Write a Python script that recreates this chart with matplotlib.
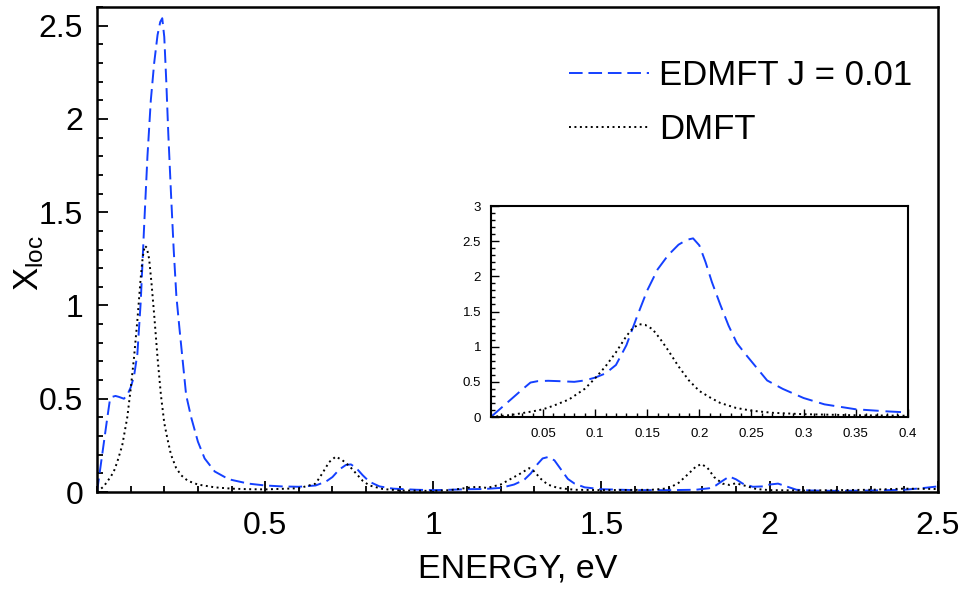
import matplotlib
matplotlib.use("Agg")
import matplotlib.pyplot as plt
from matplotlib.ticker import MultipleLocator

plt.rcParams['font.family'] = ['Liberation Sans', 'DejaVu Sans']
plt.rcParams['mathtext.fontset'] = 'custom'
plt.rcParams['mathtext.rm'] = 'Liberation Sans'
plt.rcParams['mathtext.it'] = 'Liberation Sans'

# EDMFT J = 0.01 (blue dashed)
edmft_x = [0.0, 0.01, 0.02, 0.03, 0.038, 0.045, 0.055, 0.065, 0.08, 0.09, 0.10, 0.11,
           0.12, 0.13, 0.14, 0.15, 0.16, 0.17, 0.18, 0.188, 0.194, 0.2, 0.206, 0.212,
           0.22, 0.228, 0.236, 0.245, 0.255, 0.265, 0.28, 0.3, 0.32, 0.35, 0.38, 0.4,
           0.45, 0.5, 0.55, 0.6, 0.65, 0.68, 0.70, 0.72, 0.74, 0.755, 0.77, 0.79, 0.81,
           0.84, 0.88, 0.95, 1.0, 1.05, 1.1, 1.15, 1.2, 1.24, 1.27, 1.29, 1.31, 1.325,
           1.34, 1.36, 1.38, 1.40, 1.42, 1.45, 1.5, 1.6, 1.7, 1.78, 1.82, 1.84, 1.86,
           1.88, 1.9, 1.92, 1.95, 1.98, 2.0, 2.025, 2.05, 2.08, 2.12, 2.2, 2.3, 2.4,
           2.45, 2.5]
edmft_y = [0.0, 0.13, 0.26, 0.39, 0.49, 0.51, 0.515, 0.51, 0.50, 0.52, 0.56, 0.62,
           0.74, 1.02, 1.42, 1.8, 2.1, 2.3, 2.45, 2.52, 2.54, 2.44, 2.2, 1.92,
           1.6, 1.3, 1.05, 0.88, 0.7, 0.52, 0.4, 0.27, 0.18, 0.11, 0.08, 0.065,
           0.045, 0.035, 0.03, 0.028, 0.035, 0.055, 0.08, 0.12, 0.145, 0.148, 0.13, 0.09, 0.055,
           0.03, 0.018, 0.012, 0.01, 0.012, 0.015, 0.016, 0.022, 0.04, 0.065, 0.1, 0.15, 0.18,
           0.187, 0.17, 0.12, 0.07, 0.045, 0.025, 0.015, 0.01, 0.01, 0.012, 0.02, 0.035, 0.06,
           0.083, 0.068, 0.045, 0.028, 0.03, 0.04, 0.045, 0.03, 0.012, 0.008, 0.006, 0.008, 0.012,
           0.02, 0.03]

# DMFT (black dotted)
dmft_x = [0.0, 0.02, 0.04, 0.05, 0.06, 0.075, 0.09, 0.1, 0.11, 0.12, 0.13, 0.136,
          0.142, 0.148, 0.155, 0.162, 0.17, 0.18, 0.19, 0.2, 0.21, 0.22, 0.235, 0.25,
          0.27, 0.3, 0.35, 0.4, 0.45, 0.5, 0.6, 0.65, 0.67, 0.69, 0.71, 0.73, 0.75,
          0.77, 0.79, 0.81, 0.85, 0.9, 1.0, 1.05, 1.1, 1.13, 1.16, 1.2, 1.23, 1.26,
          1.285, 1.30, 1.32, 1.34, 1.37, 1.42, 1.5, 1.65, 1.7, 1.73, 1.76, 1.78, 1.797,
          1.815, 1.835, 1.86, 1.88, 1.9, 1.93, 1.96, 2.0, 2.1, 2.2, 2.3, 2.4, 2.5]
dmft_y = [0.0, 0.03, 0.08, 0.11, 0.16, 0.25, 0.4, 0.55, 0.72, 0.92, 1.15, 1.26,
          1.32, 1.31, 1.25, 1.12, 0.95, 0.72, 0.52, 0.37, 0.28, 0.2, 0.13, 0.09,
          0.06, 0.04, 0.025, 0.018, 0.015, 0.014, 0.02, 0.045, 0.1, 0.16, 0.19, 0.17, 0.14,
          0.1, 0.06, 0.035, 0.016, 0.008, 0.006, 0.01, 0.022, 0.028, 0.022, 0.04, 0.07, 0.1,
          0.128, 0.11, 0.07, 0.04, 0.022, 0.012, 0.01, 0.012, 0.02, 0.05, 0.1, 0.135, 0.15,
          0.13, 0.08, 0.045, 0.038, 0.047, 0.032, 0.016, 0.01, 0.008, 0.01, 0.012, 0.018, 0.016]

main_xticks = [0.5, 1, 1.5, 2, 2.5]
main_xlabels = ['0.5', '1', '1.5', '2', '2.5']
main_yticks = [0, 0.5, 1, 1.5, 2, 2.5]
main_ylabels = ['0', '0.5', '1', '1.5', '2', '2.5']
inset_xticks = [0.05, 0.1, 0.15, 0.2, 0.25, 0.3, 0.35, 0.4]
inset_xlabels = ['0.05', '0.1', '0.15', '0.2', '0.25', '0.3', '0.35', '0.4']
inset_yticks = [0, 0.5, 1, 1.5, 2, 2.5, 3]
inset_ylabels = ['0', '0.5', '1', '1.5', '2', '2.5', '3']

blue = '#1440ff'

fig = plt.figure(figsize=(9.72, 5.91), dpi=100)
ax = fig.add_axes([0.0998, 0.1675, 0.865, 0.8206])
ins = fig.add_axes([0.505, 0.2944, 0.429, 0.357])

ax.plot(edmft_x, edmft_y, color=blue, lw=1.4, linestyle=(0, (7, 3)), label='EDMFT J = 0.01')
ax.plot(dmft_x, dmft_y, color='black', lw=1.4, linestyle=(0, (1, 1.8)), label='DMFT')
ax.set_xlim(0, 2.5)
ax.set_ylim(0, 2.6)
ax.set_xticks(main_xticks)
ax.set_xticklabels(main_xlabels)
ax.set_yticks(main_yticks)
ax.set_yticklabels(main_ylabels)
ax.xaxis.set_minor_locator(MultipleLocator(0.1))
ax.yaxis.set_minor_locator(MultipleLocator(0.1))
ax.tick_params(which='both', direction='in', width=1.3, labelsize=23)
ax.tick_params(axis='x', which='major', length=8, pad=14)
ax.tick_params(axis='y', which='major', length=8, pad=10)
ax.tick_params(which='minor', length=4)
for s in ax.spines.values():
    s.set_linewidth(1.8)
ax.set_xlabel('ENERGY, eV', fontsize=24.5, labelpad=9)
ax.set_ylabel(r'X$_{\mathrm{loc}}$', fontsize=25, labelpad=-5)
ax.yaxis.label.set_y(0.473)
ax.legend(loc='upper right', bbox_to_anchor=(0.97, 0.893), frameon=False, fontsize=25,
          handlelength=2.3, handletextpad=0.3, labelspacing=0.6, borderpad=0, borderaxespad=0)

ins.plot(edmft_x, edmft_y, color=blue, lw=1.4, linestyle=(0, (8, 3.5)))
ins.plot(dmft_x, dmft_y, color='black', lw=1.4, linestyle=(0, (1, 1.8)))
ins.set_xlim(0, 0.4)
ins.set_ylim(0, 3)
ins.set_xticks(inset_xticks)
ins.set_xticklabels(inset_xlabels)
ins.set_yticks(inset_yticks)
ins.set_yticklabels(inset_ylabels)
ins.xaxis.set_minor_locator(MultipleLocator(0.01))
ins.yaxis.set_minor_locator(MultipleLocator(0.1))
ins.tick_params(which='both', direction='in', width=1.0, labelsize=9.5)
ins.tick_params(which='major', length=6)
ins.tick_params(which='minor', length=3)
ins.tick_params(axis='x', pad=8)
ins.tick_params(axis='y', pad=7)
for s in ins.spines.values():
    s.set_linewidth(1.5)

fig.savefig('out.png', dpi=100)
